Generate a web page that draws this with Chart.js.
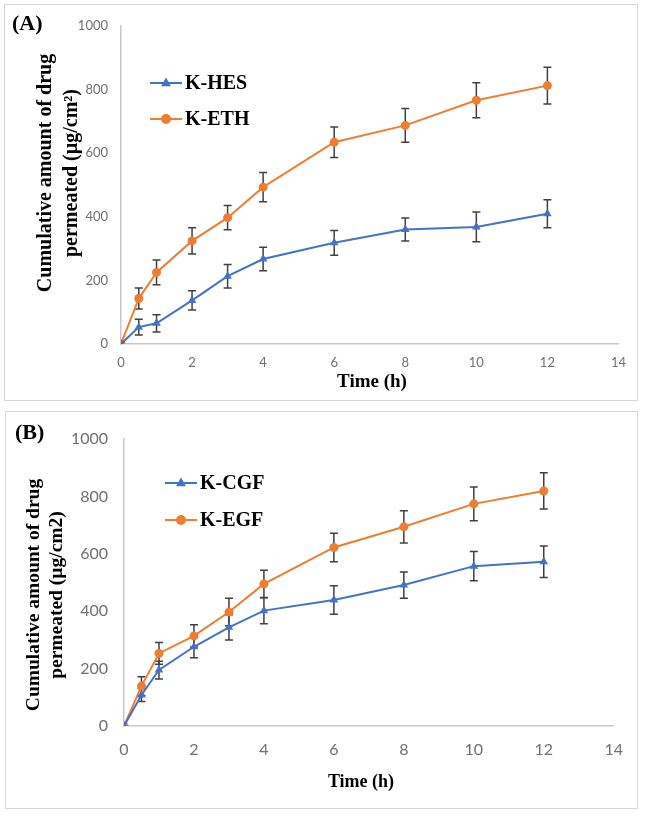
<!DOCTYPE html>
<html>
<head>
<meta charset="utf-8">
<script src="https://cdn.jsdelivr.net/npm/chart.js@4.4.1/dist/chart.umd.min.js"></script>
<style>
body { margin: 0; background: #fff; width: 645px; height: 818px; position: relative; overflow: hidden; }
.box { position: absolute; border: 1px solid #d6d6d6; background: #fff; }
.box canvas { display: block; }
#boxA { left: 4px; top: 4px; width: 632px; height: 395px; }
#boxB { left: 5px; top: 411px; width: 631px; height: 396px; }
</style>
</head>
<body>
<div class="box" id="boxA"><canvas id="chartA" width="632" height="395"></canvas></div>
<div class="box" id="boxB"><canvas id="chartB" width="631" height="396"></canvas></div>
<script>
// time points (h)
let timeH = [0, 0.5, 1, 2, 3, 4, 6, 8, 10, 12];

// panel A
let kHes = [0, 53, 65, 137, 213, 267, 318, 360, 368, 409];
let kHesErr = [0, 25, 27, 30, 37, 37, 39, 36, 47, 44];
let kEth = [0, 143, 225, 324, 397, 493, 634, 687, 766, 812];
let kEthErr = [0, 33, 39, 41, 38, 46, 48, 53, 55, 58];

// panel B
let kCgf = [0, 108, 195, 276, 344, 402, 439, 491, 557, 572];
let kCgfErr = [0, 23, 31, 38, 44, 46, 50, 46, 51, 55];
let kEgf = [0, 139, 253, 314, 397, 495, 622, 694, 774, 819];
let kEgfErr = [0, 33, 38, 39, 48, 48, 50, 56, 59, 63];

let xTicks = [0, 2, 4, 6, 8, 10, 12, 14];
let yTicks = [0, 200, 400, 600, 800, 1000];

const blue = '#4472c4';
const orange = '#ed7d31';
const serif = '"Liberation Serif", "Times New Roman", serif';

function points(vals) {
    return timeH.map((t, i) => ({ x: t, y: vals[i] }));
}

// error bars, drawn under the markers
const errorBars = {
    id: 'errorBars',
    beforeDatasetsDraw(chart) {
        let ctx = chart.ctx;
        let xs = chart.scales.x, ys = chart.scales.y;
        ctx.save();
        ctx.strokeStyle = '#404040';
        ctx.lineWidth = 1.5;
        chart.data.datasets.forEach(ds => {
            ds.data.forEach((p, i) => {
                let e = ds.errors[i];
                if (!e) return;
                let x = xs.getPixelForValue(p.x);
                let y1 = ys.getPixelForValue(p.y + e);
                let y2 = ys.getPixelForValue(p.y - e);
                ctx.beginPath();
                ctx.moveTo(x, y1); ctx.lineTo(x, y2);
                ctx.moveTo(x - 4, y1); ctx.lineTo(x + 4, y1);
                ctx.moveTo(x - 4, y2); ctx.lineTo(x + 4, y2);
                ctx.stroke();
            });
        });
        ctx.restore();
    }
};

function marker(ctx, style, x, y, r, color) {
    ctx.fillStyle = color;
    ctx.beginPath();
    if (style === 'triangle') {
        ctx.moveTo(x, y - r);
        ctx.lineTo(x + r * 0.9, y + r * 0.6);
        ctx.lineTo(x - r * 0.9, y + r * 0.6);
        ctx.closePath();
    } else {
        ctx.arc(x, y, r, 0, Math.PI * 2);
    }
    ctx.fill();
}

// panel letter, axis titles and the legend inside the plot
const panelText = {
    id: 'panelText',
    afterDraw(chart, args, o) {
        let ctx = chart.ctx;
        ctx.save();
        ctx.fillStyle = '#000';
        ctx.textBaseline = 'middle';

        ctx.textAlign = 'left';
        ctx.font = 'bold 22px ' + serif;
        ctx.fillText(o.letter, o.letterPos[0], o.letterPos[1]);

        ctx.textAlign = 'center';
        ctx.font = 'bold ' + o.xTitleSize + 'px ' + serif;
        ctx.fillText('Time (h)', o.xTitlePos[0], o.xTitlePos[1]);

        ctx.font = 'bold ' + o.yTitleSize + 'px ' + serif;
        o.yTitle.forEach((line, i) => {
            ctx.save();
            ctx.translate(o.yTitleX[i], o.yTitleY);
            ctx.rotate(-Math.PI / 2);
            ctx.fillText(line, 0, 0);
            ctx.restore();
        });

        ctx.textAlign = 'left';
        ctx.font = 'bold 20px ' + serif;
        chart.data.datasets.forEach((ds, i) => {
            let y = o.legendY[i];
            let x0 = o.legendX[0], x1 = o.legendX[1];
            ctx.strokeStyle = ds.borderColor;
            ctx.lineWidth = 2;
            ctx.beginPath();
            ctx.moveTo(x0, y); ctx.lineTo(x1, y);
            ctx.stroke();
            marker(ctx, ds.pointStyle, (x0 + x1) / 2, y, ds.pointRadius + 0.5, ds.borderColor);
            ctx.fillStyle = '#000';
            ctx.fillText(ds.label, x1 + 3, y + 1);
        });
        ctx.restore();
    }
};

function makeChart(id, sets, cfg) {
    new Chart(document.getElementById(id), {
        type: 'line',
        data: {
            datasets: sets.map(s => ({
                label: s.label,
                data: points(s.values),
                errors: s.errors,
                borderColor: s.color,
                backgroundColor: s.color,
                borderWidth: 2,
                pointStyle: s.style,
                pointRadius: s.style === 'triangle' ? 5 : 4.5,
                pointBorderWidth: 0,
                tension: 0
            }))
        },
        options: {
            responsive: false,
            animation: false,
            devicePixelRatio: 1,
            layout: { padding: cfg.padding },
            plugins: { legend: { display: false }, tooltip: { enabled: false }, panelText: cfg.text },
            scales: {
                x: {
                    type: 'linear', min: 0, max: 14,
                    afterBuildTicks: s => { s.ticks = xTicks.map(v => ({ value: v })); },
                    afterFit: s => { s.height = cfg.xHeight; },
                    grid: { display: false, drawTicks: false },
                    border: { display: true, color: '#c8c8c8', width: 1.5 },
                    ticks: { color: '#707070', padding: cfg.xPad, font: { family: 'Lato', size: cfg.tickSize },
                             callback: v => String(v) }
                },
                y: {
                    min: 0, max: 1000,
                    afterBuildTicks: s => { s.ticks = yTicks.map(v => ({ value: v })); },
                    afterFit: s => { s.width = cfg.yWidth; },
                    grid: { display: false, drawTicks: false },
                    border: { display: true, color: '#c8c8c8', width: 1.5 },
                    ticks: { color: '#707070', padding: cfg.yPad, font: { family: 'Lato', size: cfg.tickSize },
                             callback: v => String(v) }
                }
            }
        },
        plugins: [errorBars, panelText]
    });
}

makeChart('chartA', [
    { label: 'K-HES', values: kHes, errors: kHesErr, color: blue, style: 'triangle' },
    { label: 'K-ETH', values: kEth, errors: kEthErr, color: orange, style: 'circle' }
], {
    padding: { left: 0, right: 17, top: 13, bottom: 0 },
    yWidth: 116, xHeight: 56, xPad: 11, yPad: 13, tickSize: 13,
    text: {
        letter: '(A)', letterPos: [7, 19],
        xTitleSize: 19, xTitlePos: [367, 377],
        yTitleSize: 20,
        yTitle: ['Cumulative amount of drug', 'permeated (µg/cm²)'],
        yTitleX: [41, 67], yTitleY: 168,
        legendX: [145, 177], legendY: [78, 114]
    }
});

makeChart('chartB', [
    { label: 'K-CGF', values: kCgf, errors: kCgfErr, color: blue, style: 'triangle' },
    { label: 'K-EGF', values: kEgf, errors: kEgfErr, color: orange, style: 'circle' }
], {
    padding: { left: 0, right: 18, top: 27, bottom: 0 },
    yWidth: 118, xHeight: 82, xPad: 14, yPad: 16, tickSize: 16,
    text: {
        letter: '(B)', letterPos: [9, 21],
        xTitleSize: 18, xTitlePos: [355, 370],
        yTitleSize: 19.5,
        yTitle: ['Cumulative amount of drug', 'permeated (µg/cm2)'],
        yTitleX: [28, 51], yTitleY: 183,
        legendX: [159, 191], legendY: [71, 108]
    }
});
</script>
</body>
</html>
